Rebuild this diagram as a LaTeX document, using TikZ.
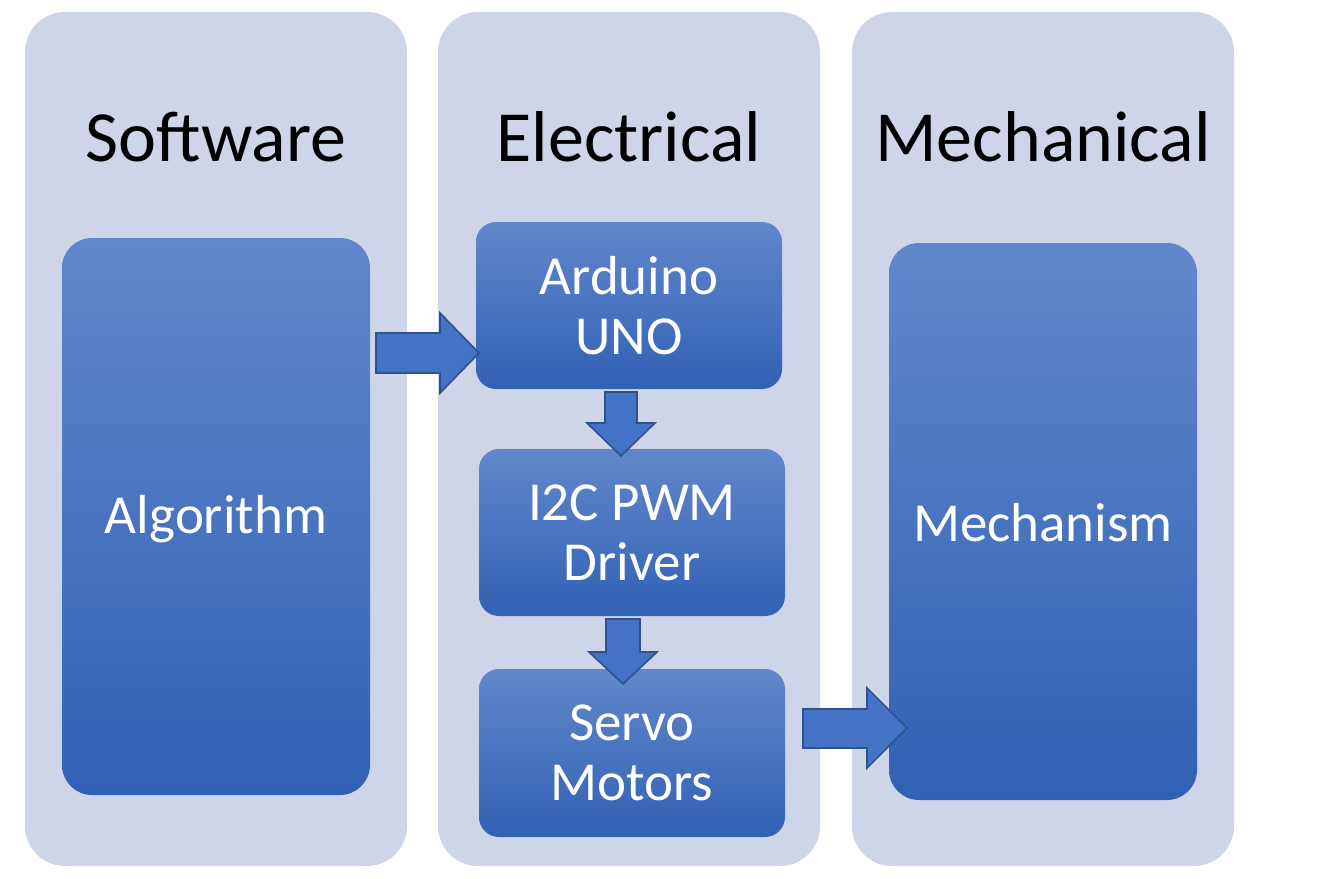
\documentclass[tikz,border=0pt]{standalone}
\usepackage{fontspec}
\setmainfont{Carlito}
\definecolor{panelc}{RGB}{207,213,232}
\definecolor{boxtop}{RGB}{98,135,203}
\definecolor{boxmid}{RGB}{66,112,196}
\definecolor{boxbot}{RGB}{49,97,180}
\definecolor{arrfill}{RGB}{68,114,196}
\definecolor{arrline}{RGB}{47,82,143}
\begin{document}
\begin{tikzpicture}[x=1pt,y=-1pt,
  panel/.style={fill=panelc,draw=none,rounded corners=40pt},
  block/.style={draw=none,rounded corners=#1,top color=boxtop,middle color=boxmid,bottom color=boxbot},
  title/.style={font=\fontsize{72}{80}\selectfont,text=black,anchor=base,inner sep=0pt},
  btext/.style={font=\fontsize{55}{60}\selectfont,text=white,align=center,inner sep=0pt},
  barrow/.style={draw=arrline,fill=arrfill,line width=1.6pt,line join=miter}
]
\useasboundingbox (0,0) rectangle (1324,878);
% panels
\fill[panel] (25,12) rectangle (407,866);
\fill[panel] (438,12) rectangle (820,866);
\fill[panel] (852,12) rectangle (1234,866);
% titles
\node[title] (tsw) at (216,161) {Software};
\node[title] (tel) at (629,161) {Electrical};
\node[title] (tme) at (1043,161) {Mechanical};
% blocks
\path[block=30pt] (62,238) rectangle (370,795);
\node[btext] (alg) at (216,519) {Algorithm};
\path[block=20pt] (476,222) rectangle (782,389);
\node[btext] (ard) at (629,305.5) {Arduino\\UNO};
\path[block=20pt] (479,449) rectangle (785,616);
\node[btext] (drv) at (632,532.5) {I2C PWM\\Driver};
\path[block=20pt] (479,669) rectangle (785,837);
\node[btext] (srv) at (632,753) {Servo\\Motors};
\path[block=30pt] (889,243) rectangle (1197,800);
\node[btext] (mec) at (1043,523) {Mechanism};
% block arrows
\draw[barrow] (376,333) -- (440,333) -- (440,313) -- (479,353) -- (440,393) -- (440,373) -- (376,373) -- cycle;
\draw[barrow] (605,392) -- (637,392) -- (637,423) -- (655,423) -- (621,456) -- (587,423) -- (605,423) -- cycle;
\draw[barrow] (606,619) -- (640,619) -- (640,652) -- (657,652) -- (623,684) -- (589,652) -- (606,652) -- cycle;
\draw[barrow] (803,709) -- (867,709) -- (867,688) -- (907,728) -- (867,768) -- (867,748) -- (803,748) -- cycle;
\end{tikzpicture}
\end{document}
